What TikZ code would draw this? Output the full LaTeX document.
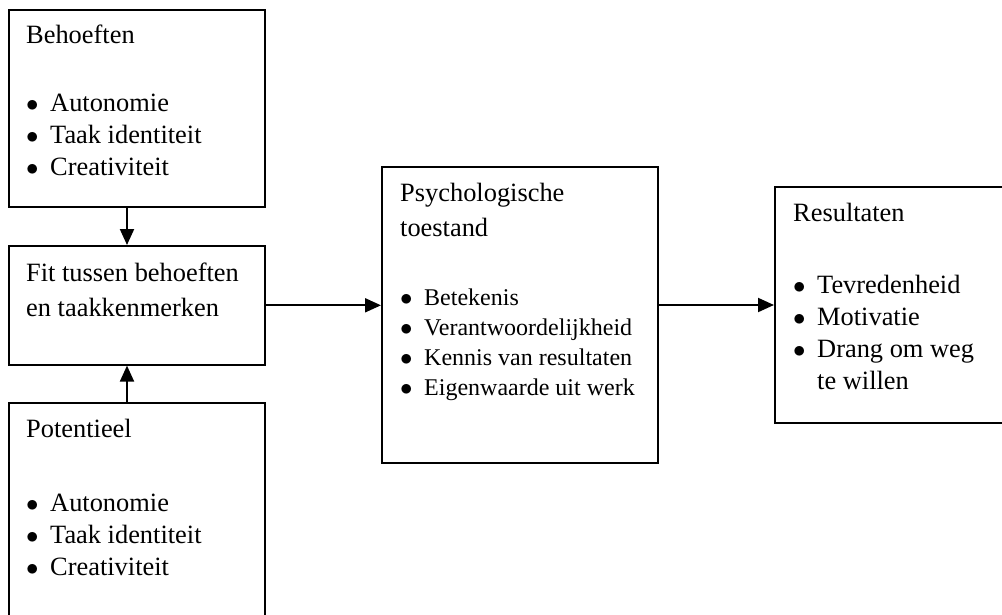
\documentclass[tikz,border=0pt]{standalone}
\usepackage{fontspec}
\setmainfont{Liberation Serif}
\usetikzlibrary{arrows.meta,positioning}
\tikzstyle{box} = [rectangle, draw, line width=2pt, inner sep=0pt]
\tikzstyle{txt} = [anchor=base west, inner sep=0pt, align=left]
\tikzstyle{arrow} = [line width=2pt, -{Triangle[length=16pt,width=14pt]}]
\newcommand{\bul}[1]{\makebox[24pt][l]{$\bullet$}#1}
\newcommand{\bigfont}{\fontsize{26.4}{32}\selectfont}
\newcommand{\smallfont}{\fontsize{24}{29.7}\selectfont}

\begin{document}
\begin{tikzpicture}[x=1pt,y=1pt]
\useasboundingbox (0,0) rectangle (1002,-614);

% Behoeften
\node[box, minimum width=256pt, minimum height=197pt] (beh) at (137,-108.4) {};
\node[txt, font=\bigfont] (behtitle) at (26,-43) {Behoeften};
\node[txt, font=\bigfont] (behlist) at (26,-175) {\bul{Autonomie}\\\bul{Taak identiteit}\\\bul{Creativiteit}};

% Fit
\node[box, minimum width=256pt, minimum height=118.6pt] (fit) at (137,-305.3) {};
\node[txt, font=\bigfont] (fittxt) at (26,-316) {Fit tussen behoeften\\[3pt]en taakkenmerken};

% Potentieel
\node[box, minimum width=256pt, minimum height=297pt] (pot) at (137,-551.5) {};
\node[txt, font=\bigfont] (pottitle) at (26,-437) {Potentieel};
\node[txt, font=\bigfont] (potlist) at (26,-575) {\bul{Autonomie}\\\bul{Taak identiteit}\\\bul{Creativiteit}};

% Psychologische toestand
\node[box, minimum width=276pt, minimum height=296pt] (psy) at (520,-315) {};
\node[txt, font=\bigfont] (psytitle) at (400,-236) {Psychologische\\[3pt]toestand};
\node[txt, font=\smallfont] (psylist) at (400,-395) {\bul{Betekenis}\\\bul{Verantwoordelijkheid}\\\bul{Kennis van resultaten}\\\bul{Eigenwaarde uit werk}};

% Resultaten
\node[box, minimum width=275pt, minimum height=236pt] (res) at (912.5,-305) {};
\node[txt, font=\bigfont] (restitle) at (793,-221) {Resultaten};
\node[txt, font=\bigfont] (reslist) at (793,-389) {\bul{Tevredenheid}\\\bul{Motivatie}\\\bul{Drang om weg}\\\hspace*{24pt}te willen};

% Arrows
\draw[arrow] ([xshift=-10pt]beh.south) -- ([xshift=-10pt]fit.north);
\draw[arrow] ([xshift=-10pt]pot.north) -- ([xshift=-10pt]fit.south);
\draw[arrow] (fit.east) -- (fit.east -| psy.west);
\draw[arrow] (res.west -| psy.east) -- (res.west);
\end{tikzpicture}
\end{document}
